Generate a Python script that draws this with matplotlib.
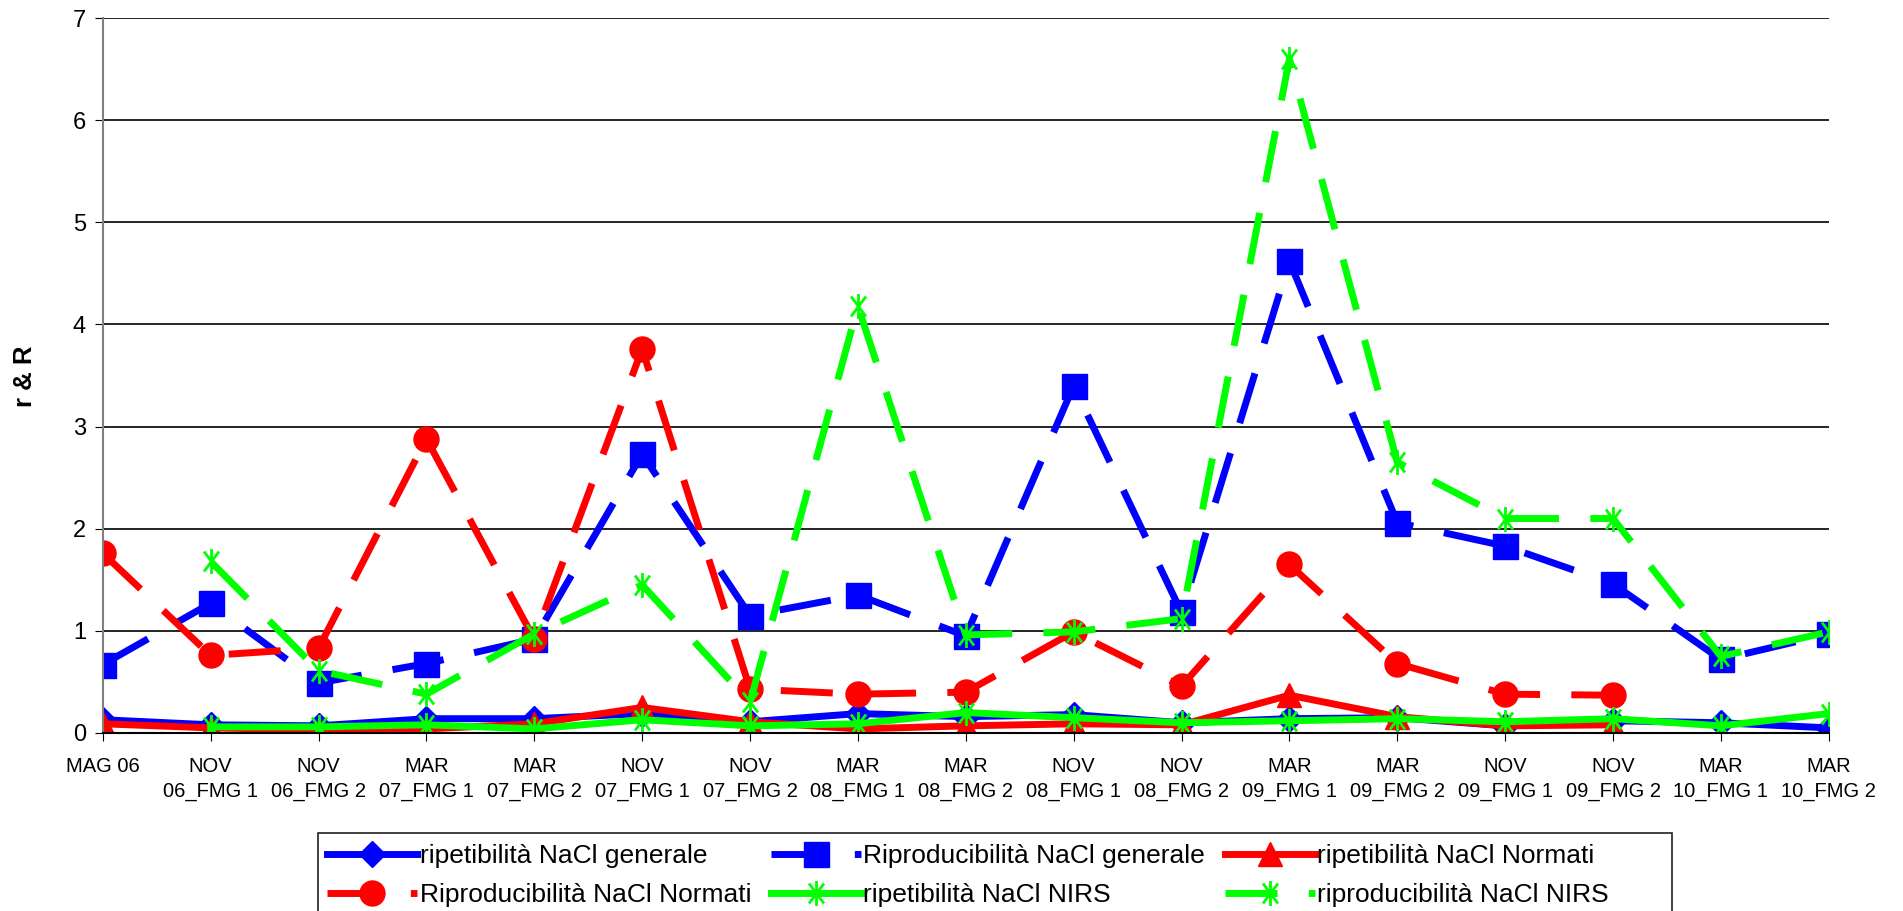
import matplotlib
matplotlib.use('Agg')
import matplotlib.pyplot as plt
import matplotlib.patches as patches
from matplotlib.path import Path
import numpy as np

plt.rcParams['font.family'] = ['Liberation Sans', 'DejaVu Sans']

# categories (two-line tick labels)
categories = ['MAG 06', 'NOV\n06_FMG 1', 'NOV\n06_FMG 2', 'MAR\n07_FMG 1', 'MAR\n07_FMG 2',
              'NOV\n07_FMG 1', 'NOV\n07_FMG 2', 'MAR\n08_FMG 1', 'MAR\n08_FMG 2', 'NOV\n08_FMG 1',
              'NOV\n08_FMG 2', 'MAR\n09_FMG 1', 'MAR\n09_FMG 2', 'NOV\n09_FMG 1', 'NOV\n09_FMG 2',
              'MAR\n10_FMG 1', 'MAR\n10_FMG 2']

rip_generale = [0.13, 0.08, 0.07, 0.14, 0.14, 0.19, 0.11, 0.19, 0.16, 0.18, 0.10, 0.14,
                0.15, 0.07, 0.12, 0.10, 0.05]
Rip_generale = [0.67, 1.27, 0.49, 0.68, 0.92, 2.73, 1.15, 1.35, 0.95, 3.40, 1.18, 4.62,
                2.06, 1.83, 1.46, 0.72, 0.97]
rip_normati = [0.09, 0.05, 0.03, 0.04, 0.09, 0.25, 0.11, 0.04, 0.07, 0.09, 0.08, 0.37,
               0.16, 0.07, 0.08, None, None]
Rip_normati = [1.76, 0.76, 0.83, 2.88, 0.92, 3.76, 0.43, 0.38, 0.40, 0.99, 0.46, 1.65,
               0.68, 0.38, 0.37, None, None]
rip_nirs = [None, 0.06, 0.06, 0.08, 0.04, 0.13, 0.07, 0.09, 0.20, 0.15, 0.10, 0.12,
            0.14, 0.11, 0.14, 0.07, 0.19]
Rip_nirs = [None, 1.68, 0.61, 0.38, 0.97, 1.45, 0.30, 4.18, 0.96, 0.99, 1.12, 6.60,
            2.65, 2.10, 2.10, 0.75, 0.99]

labels = ['ripetibilità NaCl generale', 'Riproducibilità NaCl generale',
          'ripetibilità NaCl Normati', 'Riproducibilità NaCl Normati',
          'ripetibilità NaCl NIRS', 'riproducibilità NaCl NIRS']


def to_arr(v):
    return np.array([np.nan if a is None else a for a in v], dtype=float)


# excel-like star marker: X plus vertical bar
star = Path([(0, -1), (0, 1), (-0.6, -0.8), (0.6, 0.8), (-0.6, 0.8), (0.6, -0.8)],
            [Path.MOVETO, Path.LINETO, Path.MOVETO, Path.LINETO, Path.MOVETO, Path.LINETO])

fig = plt.figure(figsize=(19.03, 9.11), dpi=100)
ax = fig.add_axes([0.054, 0.1954, 0.907, 0.7848])

x = np.arange(len(categories))
lw = 5
dash = (7.5, 4.5)

series = [
    (rip_generale, 'blue', 'D', 13, None),
    (Rip_generale, 'blue', 's', 18, dash),
    (rip_normati, 'red', '^', 17, None),
    (Rip_normati, 'red', 'o', 18, dash),
    (rip_nirs, '#00FF00', star, 18, None),
    (Rip_nirs, '#00FF00', star, 18, dash),
]

handles = []
for (vals, col, mk, ms, ds), lab in zip(series, labels):
    y = to_arr(vals)
    if mk is star:
        h, = ax.plot(x, y, color=col, lw=lw, marker=mk, ms=ms, mec=col, mew=2,
                     mfc='none', label=lab)
    else:
        h, = ax.plot(x, y, color=col, lw=lw, marker=mk, ms=ms, mec=col, mfc=col, label=lab)
    if ds is not None:
        h.set_dashes(ds)
    handles.append(h)

ax.set_xlim(0, len(categories) - 1)
ax.set_ylim(0, 7)
ax.set_yticks(range(0, 8))
ax.set_xticks(x)
ax.set_xticklabels(categories, fontsize=14.5, linespacing=1.4, ha='center')
ax.tick_params(axis='y', labelsize=17, length=6, pad=6)
ax.tick_params(axis='x', length=6, pad=11)
ax.yaxis.grid(True, color='black', lw=1.2)
ax.set_axisbelow(True)
for s in ['top', 'right']:
    ax.spines[s].set_visible(False)
ax.spines['left'].set_color('#808080')
ax.spines['left'].set_linewidth(1.5)
ax.spines['bottom'].set_color('black')
ax.spines['bottom'].set_linewidth(1.5)

fig.text(0.013, 0.587, 'r & R', rotation=90, fontsize=18.5, fontweight='bold',
         ha='center', va='center')

# legend: excel style fixed box, rows filled left to right
order = [0, 3, 1, 4, 2, 5]
leg = fig.legend([handles[i] for i in order], [labels[i] for i in order],
                 loc='upper left', bbox_to_anchor=(0.1692, 0.079), ncol=3,
                 fontsize=19, frameon=False,
                 handlelength=3.4, handletextpad=0.1, columnspacing=0.75,
                 borderpad=0.2, labelspacing=0.55, numpoints=1, borderaxespad=0)
box = patches.Rectangle((318 / 1903, -0.01), (1672 - 318) / 1903, 1 - 833 / 911 + 0.01,
                        transform=fig.transFigure, fill=False, ec='#202020', lw=1.2)
fig.patches.append(box)

plt.savefig('out.png', dpi=100)
